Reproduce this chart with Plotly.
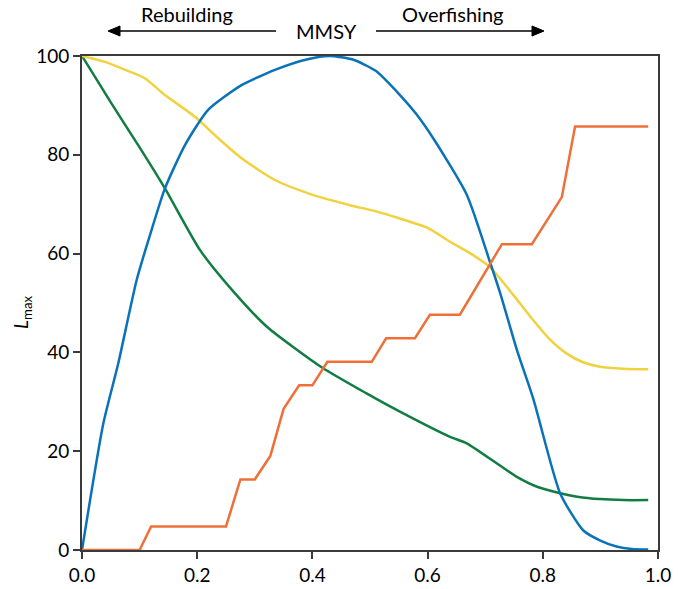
import plotly.graph_objects as go

# Blue curve
blue_x = [0, 0.037, 0.063, 0.095, 0.12, 0.144, 0.179, 0.219, 0.277, 0.335, 0.39, 0.43,
          0.47, 0.51, 0.552, 0.58, 0.61, 0.668, 0.708, 0.726, 0.755, 0.784, 0.83, 0.87,
          0.90, 0.928, 0.955, 0.983]
blue_y = [0, 25.6, 37.8, 54.7, 64.5, 73.2, 82.0, 89.1, 94.1, 97.2, 99.3, 100,
          99.3, 97.0, 92.1, 88.3, 83.3, 71.9, 58.4, 52.0, 40.5, 30.4, 11.5, 4.0,
          1.9, 0.7, 0.2, 0.1]

# Yellow curve
yellow_x = [0, 0.04, 0.075, 0.109, 0.144, 0.196, 0.237, 0.277, 0.335, 0.393, 0.465,
            0.509, 0.552, 0.60, 0.639, 0.675, 0.708, 0.749, 0.78, 0.81, 0.841, 0.87,
            0.899, 0.94, 0.983]
yellow_y = [100, 98.8, 97.2, 95.5, 92.1, 87.7, 83.3, 79.3, 74.9, 72.2, 69.8,
            68.6, 67.1, 65.2, 62.4, 60.0, 57.3, 51.6, 47.0, 42.9, 39.8, 38.0,
            37.1, 36.7, 36.6]

# Green curve
green_x = [0, 0.05, 0.1, 0.144, 0.205, 0.263, 0.321, 0.416, 0.494, 0.552, 0.639,
           0.668, 0.755, 0.79, 0.83, 0.86, 0.899, 0.94, 0.983]
green_y = [100, 90.6, 81.5, 73.2, 60.7, 52.3, 45.2, 37.0, 31.7, 28.0, 22.9,
           21.6, 14.8, 12.8, 11.5, 10.8, 10.3, 10.1, 10.1]

# Orange step curve
orange_x = [0, 0.10, 0.12, 0.25, 0.275, 0.30, 0.327, 0.35, 0.377, 0.40, 0.426, 0.503,
            0.528, 0.578, 0.604, 0.656, 0.729, 0.781, 0.833, 0.856, 0.983]
orange_y = [0, 0, 4.76, 4.76, 14.29, 14.29, 19.05, 28.57, 33.33, 33.33, 38.10, 38.10,
            42.86, 42.86, 47.62, 47.62, 61.90, 61.90, 71.43, 85.71, 85.71]

x_ticks = [0, 0.2, 0.4, 0.6, 0.8, 1.0]
x_tick_labels = ["0.0", "0.2", "0.4", "0.6", "0.8", "1.0"]
y_ticks = [0, 20, 40, 60, 80, 100]

FONT = "Lato"
W, H = 678, 589
L, R, T, B = 82, 20, 56, 39
PW, PH = W - L - R, H - T - B


def px_to_paper(px, py):
    return (px - L) / PW, (H - B - py) / PH


fig = go.Figure()
for xs, ys, col, shape in [
    (green_x, green_y, "#117D43", "spline"),
    (yellow_x, yellow_y, "#F0D23E", "spline"),
    (blue_x, blue_y, "#0A72B9", "spline"),
    (orange_x, orange_y, "#EE7038", "linear"),
]:
    fig.add_trace(go.Scatter(x=xs, y=ys, mode="lines",
                             line=dict(color=col, width=2.5, shape=shape, smoothing=0.6),
                             showlegend=False, hoverinfo="skip", cliponaxis=False))

axis_common = dict(showline=True, mirror=True, linecolor="#3a3a3a", linewidth=2,
                   ticks="outside", ticklen=7, tickwidth=1.5, tickcolor="#3a3a3a",
                   showgrid=False, zeroline=False, automargin=False,
                   tickfont=dict(family=FONT, size=19, color="black"))

fig.update_xaxes(range=[0, 1], tickvals=x_ticks, ticktext=x_tick_labels, **axis_common)
fig.update_yaxes(range=[0, 100], tickvals=y_ticks, **axis_common)

annotations = []
# y-axis title
ax_, ay_ = px_to_paper(22, 312)
annotations.append(dict(xref="paper", yref="paper", x=ax_, y=ay_, text="<i>L</i><sub>max</sub>",
                        showarrow=False, textangle=-90, xanchor="center", yanchor="middle",
                        font=dict(family=FONT, size=19, color="black")))
# top texts
for txt, cx, cy in [("Rebuilding", 187, 14), ("Overfishing", 452, 14), ("MMSY", 326, 31)]:
    px_, py_ = px_to_paper(cx, cy)
    annotations.append(dict(xref="paper", yref="paper", x=px_, y=py_, text=txt, showarrow=False,
                            xanchor="center", yanchor="middle",
                            font=dict(family=FONT, size=20, color="black")))

# arrows drawn as shapes: line + filled triangular head
shapes = []
for tip, tail in [((108, 31), (276, 31)), ((544, 31), (376, 31))]:
    d = 1 if tail[0] > tip[0] else -1
    base_x = tip[0] + d * 12
    x0, y0 = px_to_paper(base_x, tip[1])
    x1, y1 = px_to_paper(*tail)
    shapes.append(dict(type="line", xref="paper", yref="paper", x0=x0, y0=y0, x1=x1, y1=y1,
                       line=dict(color="black", width=1.6)))
    tx, ty = px_to_paper(*tip)
    bx, by_top = px_to_paper(base_x, tip[1] - 5)
    _, by_bot = px_to_paper(base_x, tip[1] + 5)
    shapes.append(dict(type="path", xref="paper", yref="paper",
                       path=f"M {tx} {ty} L {bx} {by_top} L {bx} {by_bot} Z",
                       fillcolor="black", line=dict(color="black", width=1)))

fig.update_layout(width=W, height=H, margin=dict(l=L, r=R, t=T, b=B),
                  paper_bgcolor="white", plot_bgcolor="white",
                  font=dict(family=FONT, color="black"), annotations=annotations, shapes=shapes)

fig.write_html("out.html", config={"displayModeBar": False},
               post_script="document.body.style.margin='0';document.body.style.padding='0';document.body.style.overflow='hidden';")
